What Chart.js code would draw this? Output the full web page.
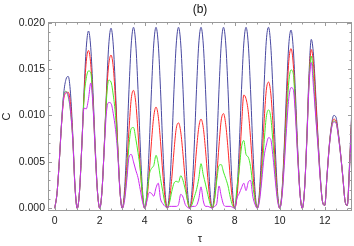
<!DOCTYPE html>
<html lang="en">
<head>
<meta charset="UTF-8">
<title>C vs tau (b)</title>
<script src="https://cdn.jsdelivr.net/npm/chart.js"></script>
<style>
  body { margin: 0; padding: 0; background: #fff; }
  canvas { display: block; }
</style>
</head>
<body>
<canvas id="chart" width="354" height="246"></canvas>
<script>
// sample points (tau), one row per unit interval
const tau = [
  0.0, 0.1, 0.2, 0.3, 0.4, 0.5, 0.6, 0.7, 0.8, 0.9,
  1.0, 1.1, 1.2, 1.3, 1.4, 1.5, 1.6, 1.7, 1.8, 1.9,
  2.0, 2.1, 2.2, 2.3, 2.4, 2.5, 2.6, 2.7, 2.8, 2.9,
  3.0, 3.1, 3.2, 3.3, 3.4, 3.5, 3.6, 3.7, 3.8, 3.9,
  4.0, 4.1, 4.2, 4.3, 4.4, 4.5, 4.6, 4.7, 4.8, 4.9,
  5.0, 5.1, 5.2, 5.3, 5.4, 5.5, 5.6, 5.7, 5.8, 5.9,
  6.0, 6.1, 6.2, 6.3, 6.4, 6.5, 6.6, 6.7, 6.8, 6.9,
  7.0, 7.1, 7.2, 7.3, 7.4, 7.5, 7.6, 7.7, 7.8, 7.9,
  8.0, 8.1, 8.2, 8.3, 8.4, 8.5, 8.6, 8.7, 8.8, 8.9,
  9.0, 9.1, 9.2, 9.3, 9.4, 9.5, 9.6, 9.7, 9.8, 9.9,
  10.0, 10.1, 10.2, 10.3, 10.4, 10.5, 10.6, 10.7, 10.8, 10.9,
  11.0, 11.1, 11.2, 11.3, 11.4, 11.5, 11.6, 11.7, 11.8, 11.9,
  12.0, 12.1, 12.2, 12.3, 12.4, 12.5, 12.6, 12.7, 12.8, 12.9,
  13.0, 13.1, 13.2, 13.3, 13.4
];

const blueC = [
  0, .0016, .0050, .0090, .0124, .0139, .0142, .0124, .0080, .0024,
  0, .0018, .0066, .0125, .0173, .0191, .0173, .0125, .0066, .0018,
  0, .0019, .0067, .0127, .0176, .0194, .0176, .0127, .0067, .0019,
  0, .0019, .0067, .0128, .0177, .0195, .0177, .0128, .0067, .0019,
  0, .0019, .0067, .0128, .0177, .0195, .0177, .0128, .0067, .0019,
  0, .0019, .0067, .0128, .0177, .0195, .0177, .0128, .0067, .0019,
  0, .0019, .0067, .0128, .0177, .0195, .0177, .0128, .0067, .0019,
  0, .0019, .0067, .0128, .0177, .0195, .0177, .0128, .0067, .0019,
  0, .0019, .0067, .0128, .0177, .0195, .0177, .0128, .0067, .0019,
  0, .0019, .0068, .0130, .0180, .0195, .0175, .0125, .0065, .0018,
  0, .0019, .0067, .0127, .0176, .0192, .0172, .0122, .0062, .0016,
  0, .0020, .0075, .0145, .0182, .0165, .0122, .0076, .0035, .0007,
  .0003, .0035, .0068, .0090, .0100, .0098, .0082, .0060, .0035, .0008,
  .0003, .0048, .0105, .0148, .0180
];

const redC = [
  0, .0016, .0050, .0090, .0118, .0124, .0125, .0112, .0076, .0023,
  0, .0018, .0066, .0120, .0158, .0170, .0155, .0115, .0062, .0017,
  0, .0019, .0067, .0122, .0155, .0165, .0152, .0116, .0066, .0018,
  0, .0014, .0045, .0085, .0118, .0127, .0114, .0082, .0043, .0012,
  0, .0011, .0038, .0072, .0099, .0109, .0099, .0072, .0038, .0011,
  0, .0009, .0032, .0062, .0086, .0092, .0082, .0058, .0030, .0008,
  0, .0009, .0033, .0063, .0087, .0096, .0087, .0063, .0033, .0009,
  0, .0010, .0035, .0068, .0095, .0102, .0090, .0064, .0033, .0009,
  0, .0013, .0045, .0088, .0122, .0118, .0104, .0076, .0040, .0011,
  0, .0014, .0048, .0092, .0127, .0136, .0124, .0090, .0047, .0013,
  0, .0017, .0060, .0112, .0158, .0172, .0155, .0110, .0058, .0016,
  0, .0020, .0073, .0138, .0171, .0155, .0115, .0072, .0033, .0007,
  .0003, .0035, .0067, .0088, .0096, .0094, .0080, .0059, .0034, .0008,
  .0003, .0045, .0100, .0140, .0170
];

const greenC = [
  0, .0016, .0050, .0092, .0122, .0126, .0120, .0104, .0074, .0022,
  0, .0018, .0066, .0118, .0140, .0148, .0146, .0112, .0060, .0017,
  0, .0019, .0066, .0118, .0138, .0136, .0122, .0100, .0063, .0018,
  0, .0010, .0035, .0068, .0086, .0087, .0075, .0060, .0042, .0015,
  0, .0016, .0036, .0043, .0046, .0057, .0048, .0032, .0018, .0005,
  0, .0006, .0018, .0027, .0029, .0028, .0035, .0030, .0020, .0008,
  0, .0004, .0012, .0020, .0032, .0048, .0036, .0026, .0015, .0005,
  0, .0009, .0030, .0046, .0047, .0039, .0032, .0024, .0012, .0003,
  0, .0023, .0042, .0066, .0073, .0058, .0055, .0045, .0025, .0008,
  0, .0011, .0037, .0070, .0098, .0106, .0098, .0070, .0037, .0011,
  0, .0015, .0052, .0098, .0136, .0149, .0145, .0105, .0056, .0016,
  0, .0020, .0072, .0135, .0164, .0140, .0100, .0068, .0032, .0007,
  .0003, .0035, .0066, .0087, .0094, .0092, .0079, .0058, .0034, .0008,
  .0003, .0043, .0096, .0135, .0165
];

const magentaC = [
  0, .0016, .0050, .0091, .0120, .0125, .0122, .0105, .0074, .0022,
  0, .0018, .0066, .0108, .0107, .0118, .0135, .0110, .0060, .0017,
  0, .0019, .0064, .0104, .0114, .0113, .0102, .0085, .0058, .0017,
  0, .0008, .0030, .0055, .0058, .0050, .0041, .0033, .0020, .0007,
  0, .0008, .0017, .0016, .0013, .0022, .0027, .0010, .0005, .0002,
  .0001, .0002, .0002, .0002, .0002, .0004, .0015, .0012, .0004, .0001,
  0, .0002, .0002, .0003, .0010, .0023, .0008, .0002, .0002, .0001,
  0, .0002, .0005, .0024, .0013, .0004, .0002, .0002, .0002, .0001,
  0, .0011, .0016, .0022, .0027, .0019, .0028, .0030, .0013, .0004,
  0, .0008, .0030, .0055, .0068, .0076, .0074, .0055, .0030, .0008,
  0, .0013, .0046, .0086, .0118, .0130, .0128, .0098, .0053, .0015,
  0, .0020, .0071, .0132, .0157, .0130, .0098, .0066, .0031, .0007,
  .0003, .0035, .0066, .0086, .0093, .0092, .0078, .0058, .0034, .0008,
  .0003, .0042, .0095, .0132, .0160
];

const xTicks = [0, 2, 4, 6, 8, 10, 12];
const yTicks = [0, 0.005, 0.010, 0.015, 0.020];

function pts(vals) {
  return tau.map((t, i) => ({ x: t, y: vals[i] }));
}

function series(vals, color, order) {
  return {
    data: pts(vals),
    borderColor: color,
    borderWidth: 1,
    pointRadius: 0,
    fill: false,
    cubicInterpolationMode: 'monotone',
    order: order
  };
}

// Mathematica style frame with inward ticks on all four sides
const framePlugin = {
  id: 'frame',
  afterDraw(chart) {
    const { ctx, chartArea: a, scales: { x, y } } = chart;
    ctx.save();
    ctx.strokeStyle = '#9a9a9a';
    ctx.lineWidth = 1;
    ctx.strokeRect(a.left + 0.5, a.top + 0.5, a.right - a.left - 1, a.bottom - a.top - 1);
    ctx.beginPath();
    for (let k = 0; k <= 26; k++) {
      const v = k * 0.5;
      const px = Math.round(x.getPixelForValue(v)) + 0.5;
      if (px > a.right - 1) break;
      const len = k % 4 === 0 ? 4 : 2.5;
      ctx.moveTo(px, a.bottom);
      ctx.lineTo(px, a.bottom - len);
      ctx.moveTo(px, a.top);
      ctx.lineTo(px, a.top + len);
    }
    for (let k = 0; k <= 20; k++) {
      const v = k * 0.001;
      const py = Math.round(y.getPixelForValue(v)) + 0.5;
      const len = k % 5 === 0 ? 4 : 2.5;
      ctx.moveTo(a.left, py);
      ctx.lineTo(a.left + len, py);
      ctx.moveTo(a.right, py);
      ctx.lineTo(a.right - len, py);
    }
    ctx.stroke();
    ctx.restore();
  }
};

const labelFont = { family: 'Liberation Sans', size: 10.5 };

new Chart(document.getElementById('chart'), {
  type: 'line',
  data: {
    datasets: [
      series(blueC, 'rgb(72,72,160)', 4),
      series(redC, 'rgb(255,40,40)', 3),
      series(greenC, 'rgb(70,235,40)', 2),
      series(magentaC, 'rgb(205,40,240)', 1)
    ]
  },
  options: {
    responsive: false,
    devicePixelRatio: 1,
    animation: false,
    layout: { padding: { left: 0, right: 2, top: 0, bottom: 0 } },
    plugins: {
      legend: { display: false },
      tooltip: { enabled: false },
      title: {
        display: true,
        text: '(b)',
        fullSize: false,
        color: '#111',
        font: { family: 'Liberation Sans', size: 12, weight: 'normal' },
        padding: { top: 2, bottom: 5.6 }
      }
    },
    scales: {
      x: {
        type: 'linear',
        min: -0.3,
        max: 13.21,
        grid: { display: false, drawTicks: false },
        border: { display: false },
        afterBuildTicks: s => { s.ticks = xTicks.map(v => ({ value: v })); },
        afterFit: s => { s.height = 35; },
        ticks: {
          color: '#222',
          font: labelFont,
          padding: 4,
          maxRotation: 0,
          callback: v => String(v)
        },
        title: {
          display: true,
          text: 'τ',
          color: '#222',
          font: { family: 'Liberation Sans', size: 11 },
          padding: { top: 0, bottom: 0 }
        }
      },
      y: {
        min: -0.0003,
        max: 0.02007,
        grid: { display: false, drawTicks: false },
        border: { display: false },
        afterBuildTicks: s => { s.ticks = yTicks.map(v => ({ value: v })); },
        afterFit: s => { s.width = 48; },
        ticks: {
          color: '#222',
          font: labelFont,
          padding: 3,
          callback: v => v.toFixed(3)
        },
        title: {
          display: true,
          text: 'C',
          color: '#222',
          font: { family: 'Liberation Sans', size: 11 },
          padding: { top: 0, bottom: 0 }
        }
      }
    }
  },
  plugins: [framePlugin]
});
</script>
</body>
</html>
